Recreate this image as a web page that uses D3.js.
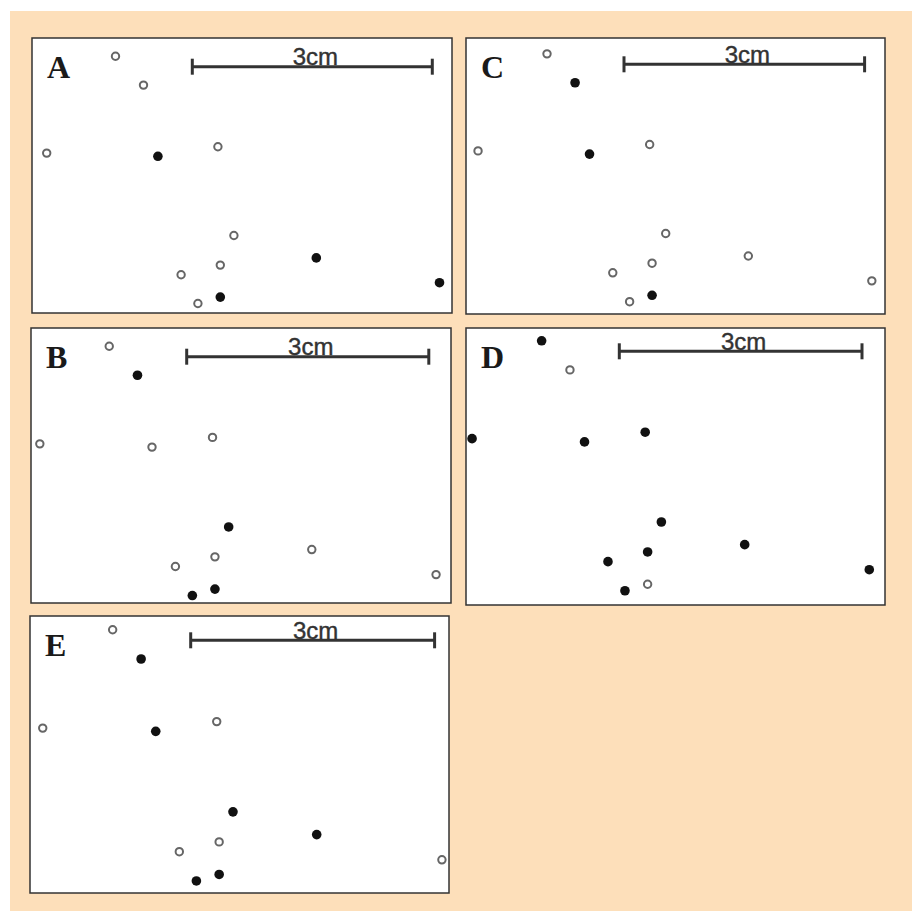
<!DOCTYPE html>
<html>
<head>
<meta charset="utf-8">
<script src="https://cdn.jsdelivr.net/npm/d3@7"></script>
<style>
  body { margin: 0; background: #fff; }
  svg { display: block; }
</style>
</head>
<body>
<div id="chart"></div>
<script>
// spot positions in cm, measured from the left end of the 3cm scale bar
var spotX = [-0.96, -0.61, -1.82, -0.43, 0.32, 0.52, 1.55, 0.35, -0.14, 3.09, 0.35, 0.07];
var spotY = [-0.13, 0.23, 1.08, 1.12, 1.00, 2.11, 2.39, 2.48, 2.60, 2.70, 2.88, 2.96];

var panelLabels = ["A", "B", "C", "D", "E"];
// 1 = filled spot, 0 = open spot
var filledA = [0, 0, 0, 1, 0, 0, 1, 0, 0, 1, 1, 0];
var filledB = [0, 1, 0, 0, 0, 1, 0, 0, 0, 0, 1, 1];
var filledC = [0, 1, 0, 1, 0, 0, 0, 0, 0, 0, 1, 0];
var filledD = [1, 0, 1, 1, 1, 1, 1, 1, 1, 1, 0, 1];
var filledE = [0, 1, 0, 1, 0, 1, 1, 0, 0, 0, 1, 1];
var barLabel = "3cm";
var barLength = 3;

var filled = [filledA, filledB, filledC, filledD, filledE];

// panel boxes and where the scale bar sits inside each of them
var boxes = [
  {x: 32,  y: 38,  w: 420, h: 275, barX: 160.3, barY: 28.7, ppc: 80.0},
  {x: 31,  y: 328, w: 420, h: 275, barX: 155.7, barY: 28.7, ppc: 80.7},
  {x: 466, y: 38,  w: 419, h: 276, barX: 158.0, barY: 26.3, ppc: 80.2},
  {x: 466, y: 328, w: 419, h: 277, barX: 153.3, barY: 23.3, ppc: 80.9},
  {x: 30,  y: 616, w: 419, h: 277, barX: 160.7, barY: 24.3, ppc: 81.3}
];

var width = 912, height = 911;

var svg = d3.select("#chart").append("svg")
    .attr("width", width)
    .attr("height", height);

svg.append("rect")
    .attr("x", 10).attr("y", 11)
    .attr("width", width - 10).attr("height", height - 11)
    .attr("fill", "#fddfba");

panelLabels.forEach(function(label, i) {
  var b = boxes[i];
  var g = svg.append("g")
      .attr("transform", "translate(" + b.x + "," + b.y + ")");

  var x = d3.scaleLinear().domain([0, barLength]).range([b.barX, b.barX + barLength * b.ppc]);
  var y = d3.scaleLinear().domain([0, 1]).range([b.barY, b.barY + b.ppc]);

  g.append("rect")
      .attr("x", 0).attr("y", 0)
      .attr("width", b.w).attr("height", b.h)
      .attr("fill", "#fff")
      .attr("stroke", "#333")
      .attr("stroke-width", 1.5);

  g.append("text")
      .attr("x", 15)
      .attr("y", 39.7)
      .style("font-family", "'Liberation Serif', 'Times New Roman', serif")
      .style("font-weight", "bold")
      .style("font-size", "32px")
      .attr("fill", "#1a1a1a")
      .text(label);

  // scale bar
  var bar = g.append("g").attr("stroke", "#333").attr("stroke-width", 3);
  bar.append("line")
      .attr("x1", x(0)).attr("x2", x(barLength))
      .attr("y1", y(0)).attr("y2", y(0));
  bar.selectAll(".cap").data([0, barLength]).enter().append("line")
      .attr("class", "cap")
      .attr("x1", function(d) { return x(d); })
      .attr("x2", function(d) { return x(d); })
      .attr("y1", y(0) - 8).attr("y2", y(0) + 8);

  g.append("text")
      .attr("x", x(barLength / 2) + 3)
      .attr("y", y(0) - 1.5)
      .attr("text-anchor", "middle")
      .style("font-family", "'Liberation Sans', Arial, sans-serif")
      .style("font-size", "24px")
      .attr("fill", "#333")
      .attr("stroke", "#333")
      .attr("stroke-width", 0.4)
      .text(barLabel);

  var spots = spotX.map(function(d, j) {
    return {x: d, y: spotY[j], on: filled[i][j]};
  });

  g.selectAll(".spot").data(spots).enter().append("circle")
      .attr("class", "spot")
      .attr("cx", function(d) { return x(d.x); })
      .attr("cy", function(d) { return y(d.y); })
      .attr("r", function(d) { return d.on ? 4.8 : 3.7; })
      .attr("fill", function(d) { return d.on ? "#111" : "#fff"; })
      .attr("stroke", function(d) { return d.on ? "none" : "#666"; })
      .attr("stroke-width", 2);
});
</script>
</body>
</html>
